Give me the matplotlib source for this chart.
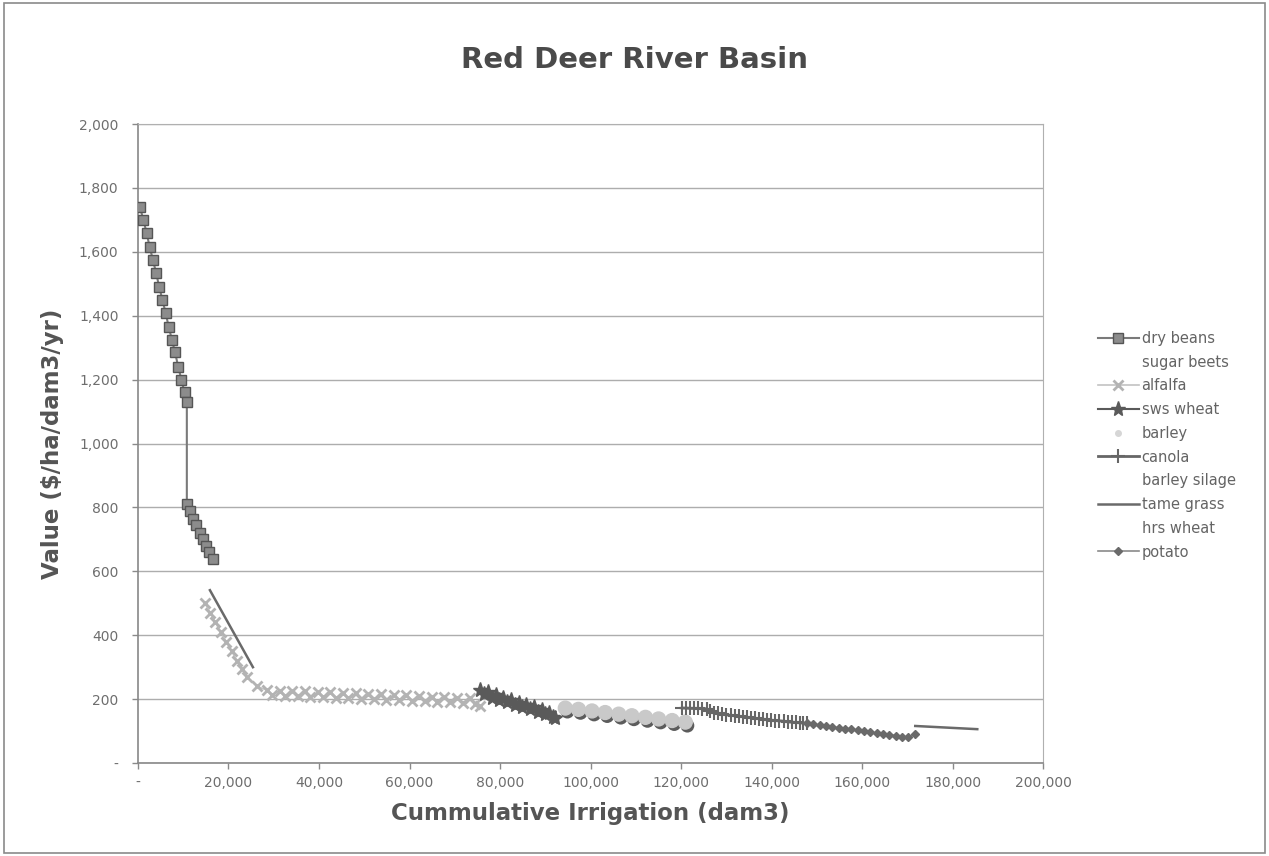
import numpy as np
import matplotlib
matplotlib.use("Agg")
import matplotlib.pyplot as plt
import matplotlib.patheffects as pe
from matplotlib.patches import Rectangle
from matplotlib.ticker import FuncFormatter, MultipleLocator

nan = np.nan

# cumulative irrigation (dam3) and marginal value ($/ha/dam3/yr) per crop
dry_beans_x = [440, 1200, 1900, 2600, 3300, 4000, 4700, 5400, 6100, 6800, 7500, 8200, 8900,
               9600, 10300, 10800, 10800, 11500, 12200, 12900, 13600, 14300, 15000, 15700, 16500]
dry_beans_y = [1740, 1700, 1660, 1615, 1575, 1535, 1490, 1450, 1410, 1365, 1325, 1285, 1240,
               1200, 1160, 1130, 810, 790, 765, 745, 720, 700, 680, 660, 640]

sugar_beets_x = []
sugar_beets_y = []

alfalfa_x = [14800, 16000, 17100, 18300, 19500, 20700, 21900, 23000, 24100, 26300,
             28500, 29700, 31300, 32500, 34100, 35300, 36900, 38100, 39700, 40900, 42500,
             43700, 45300, 46500, 48100, 49300, 50900, 52100, 53700, 54900, 56500, 57700,
             59300, 60500, 62100, 63300, 64900, 66100, 67700, 68900, 70500, 71700, 73300,
             74500, 75600]
alfalfa_y = [500, 470, 440, 410, 380, 350, 320, 295, 270, 240,
             228, 212, 227, 210, 225, 209, 224, 207, 222, 206, 221,
             204, 219, 203, 218, 201, 216, 199, 215, 198, 213, 196,
             212, 195, 210, 193, 208, 191, 207, 190, 205, 188, 203,
             186, 180]

sws_wheat_x = [75600, 76400, 77300, 78100, 79000, 79800, 80700, 81500, 82400, 83200, 84100,
               84900, 85800, 86600, 87500, 88300, 89200, 90000, 90900, 91700, 92200]
sws_wheat_y = [228, 215, 222, 205, 212, 198, 204, 190, 197, 182, 188,
               175, 181, 168, 174, 160, 166, 152, 158, 145, 141]

barley_x = [94400, 97300, 100300, 103200, 106200, 109100, 112100, 115000, 118000, 120900]
barley_y = [172, 168, 163, 158, 153, 148, 143, 138, 133, 128]

canola_x = [120200, 121100, 122000, 122900, 123800, 124700, 125600, 126400, 127300, 128200,
            129100, 130000, 130900, 131800, 132700, 133600, 134500, 135400, 136300, 137200,
            138100, 139000, 139900, 140800, 141700, 142600, 143500, 144400, 145300, 146200,
            147000, 147800]
canola_y = [172, 172, 171, 171, 171, 170, 170, 162, 158, 156,
            153, 151, 149, 148, 146, 145, 143, 142, 140, 139,
            137, 136, 134, 133, 132, 131, 129, 128, 127, 126,
            125, 124]

barley_silage_x = []
barley_silage_y = []

tame_grass_x = [15900, 25400, nan, 171700, 185400]
tame_grass_y = [541, 300, nan, 116, 106]

hrs_wheat_x = []
hrs_wheat_y = []

potato_x = [147800, 149200, 150600, 152000, 153400, 154800, 156200, 157600, 159000, 160400,
            161800, 163200, 164600, 166000, 167400, 168800, 170200, 171700]
potato_y = [124, 121, 119, 116, 113, 110, 108, 105, 102, 99,
            96, 94, 91, 88, 86, 83, 80, 90]

fig = plt.figure(figsize=(12.69, 8.56), dpi=100)
fig.patch.set_facecolor("white")
fig.add_artist(Rectangle((0.003, 0.004), 0.994, 0.992, transform=fig.transFigure,
                         fill=False, edgecolor="#8a8a8a", linewidth=1.2))

ax = fig.add_axes([0.1087, 0.1086, 0.7135, 0.7465])

ax.plot(dry_beans_x, dry_beans_y, color="#7a7a7a", lw=1.5, marker="s", ms=7,
        mfc="#8c8c8c", mec="#555555", label="dry beans", zorder=3)
ax.plot(sugar_beets_x, sugar_beets_y, color="none", label="sugar beets")
ax.plot(alfalfa_x, alfalfa_y, color="#c2c2c2", lw=1.2, marker="x", ms=7, mew=2,
        mec="#b3b3b3", label="alfalfa", zorder=3)
ax.plot(sws_wheat_x, sws_wheat_y, color="#5a5a5a", lw=1.5, marker="*", ms=11,
        mfc="#5a5a5a", mec="#5a5a5a", label="sws wheat", zorder=3)
ax.plot(barley_x, barley_y, color="#dddddd", lw=3, label="_nolegend_", zorder=2)
ax.plot(barley_x, barley_y, ls="none", marker="o", ms=10, mfc="#c9c9c9", mec="#c9c9c9",
        path_effects=[pe.SimplePatchShadow(offset=(1.5, -2.5), shadow_rgbFace="#4a4a4a", alpha=0.9),
                      pe.Normal()], zorder=3)
ax.plot([], [], ls="none", marker="o", ms=4, mfc="#d6d6d6", mec="#d6d6d6", label="barley")
ax.plot(canola_x, canola_y, color="#666666", lw=2, marker="+", ms=10, mew=1.5,
        label="canola", zorder=3)
ax.plot(barley_silage_x, barley_silage_y, color="none", label="barley silage")
ax.plot(tame_grass_x, tame_grass_y, color="#6a6a6a", lw=1.8, label="tame grass", zorder=3)
ax.plot(hrs_wheat_x, hrs_wheat_y, color="none", label="hrs wheat")
ax.plot(potato_x, potato_y, color="#8a8a8a", lw=1.2, marker="D", ms=4.5,
        mfc="#6a6a6a", mec="#6a6a6a", label="potato", zorder=3)

ax.set_xlim(0, 200000)
ax.set_ylim(0, 2000)
ax.xaxis.set_major_locator(MultipleLocator(20000))
ax.yaxis.set_major_locator(MultipleLocator(200))
fmt = FuncFormatter(lambda v, p: "-" if v == 0 else f"{v:,.0f}")
ax.xaxis.set_major_formatter(fmt)
ax.yaxis.set_major_formatter(fmt)
ax.tick_params(axis="both", colors="#8a8a8a", labelcolor="#6e6e6e", labelsize=10,
               length=4, width=1, direction="out")
ax.tick_params(axis="x", pad=5)
ax.tick_params(axis="y", pad=10)
ax.grid(axis="y", color="#adadad", lw=1)
ax.set_axisbelow(True)
for side in ["top", "right"]:
    ax.spines[side].set_color("#b0b0b0")
for side in ["left", "bottom"]:
    ax.spines[side].set_color("#888888")
    ax.spines[side].set_linewidth(1.2)

ax.set_xlabel("Cummulative Irrigation (dam3)", fontsize=16.5, fontweight="bold",
              color="#555555", labelpad=9)
ax.set_ylabel("Value (\\$/ha/dam3/yr)", fontsize=16.5, fontweight="bold",
              color="#555555")
ax.yaxis.set_label_coords(-0.082, 0.5)

fig.text(0.5, 1 - 60 / 856, "Red Deer River Basin", ha="center", va="center",
         fontsize=21, fontweight="bold", color="#4a4a4a")

leg = fig.legend(loc="upper left", bbox_to_anchor=(1092 / 1269, 1 - 325 / 856),
                 frameon=False, fontsize=10.5, labelcolor="#646464", handlelength=2.8,
                 handletextpad=0.2, labelspacing=0.6, borderaxespad=0)

fig.savefig("out.png", dpi=100)
